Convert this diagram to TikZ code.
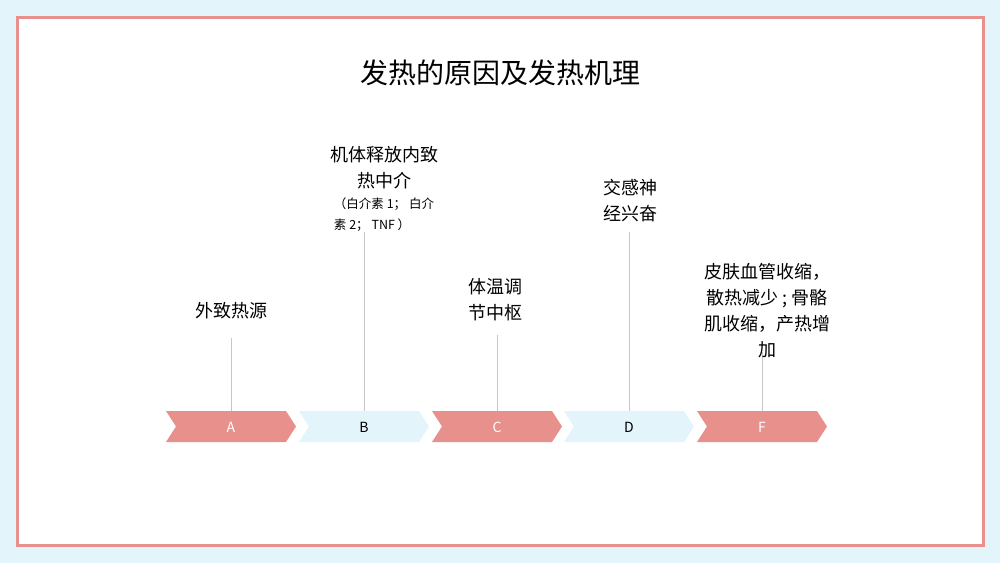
\documentclass[tikz,border=0pt]{standalone}
\usepackage{fontspec}
\setmainfont{Noto Sans CJK SC}
\tikzset{
  chev/.style={fill=#1,draw=none},
  lbl/.style={align=center,font=\fontsize{18}{26}\selectfont,inner sep=0pt},
  stem/.style={draw=gray!45,line width=0.8pt},
}
\definecolor{pinkred}{HTML}{E8908C}
\definecolor{paleblue}{HTML}{E3F5FA}
\newcommand{\chevron}[3]{% x, colour, name
  \fill[chev=#2] (#1-65,411) -- (#1+55,411) -- (#1+65,426.5) -- (#1+55,442) -- (#1-65,442) -- (#1-55,426.5) -- cycle;
  \coordinate (#3) at (#1,411);
}
\begin{document}
\begin{tikzpicture}[x=1pt,y=-1pt]
  \useasboundingbox[fill=paleblue] (0,0) rectangle (1000,563);
  \draw[pinkred,line width=3pt,fill=white] (17,17) rectangle (983,545);
  \node[font=\fontsize{28}{34}\selectfont] (title) at (500,73) {发热的原因及发热机理};
  % chevrons
  \chevron{231}{pinkred}{a}
  \chevron{364}{paleblue}{b}
  \chevron{497}{pinkred}{c}
  \chevron{629}{paleblue}{d}
  \chevron{762}{pinkred}{f}
  \foreach \x/\t/\c in {231/A/white,364/B/black,497/C/white,629/D/black,762/F/white}
    \node[text=\c,font=\fontsize{14}{16}\selectfont] at (\x,427) {\t};
  % stems
  \coordinate (ta) at (231,338);
  \coordinate (tb) at (364,232);
  \coordinate (tc) at (497,335);
  \coordinate (td) at (629,232);
  \coordinate (tf) at (762,352);
  \foreach \n in {a,b,c,d,f} \draw[stem] (\n) -- (t\n);
  % labels
  \node[lbl] (la) at (231,311) {外致热源};
  \node[lbl] (lb) at (384,168) {机体释放内致\\热中介};
  \node[lbl,align=left,font=\fontsize{12.5}{21}\selectfont] (lb2) at (384,215) {（白介素 1； 白介\\素 2；  TNF ）};
  \node[lbl] (lc) at (495,300) {体温调\\节中枢};
  \node[lbl] (ld) at (630,201) {交感神\\经兴奋};
  \node[lbl] (lf) at (767,311) {皮肤血管收缩，\\散热减少 ; 骨骼\\肌收缩，产热增\\加};
\end{tikzpicture}
\end{document}
